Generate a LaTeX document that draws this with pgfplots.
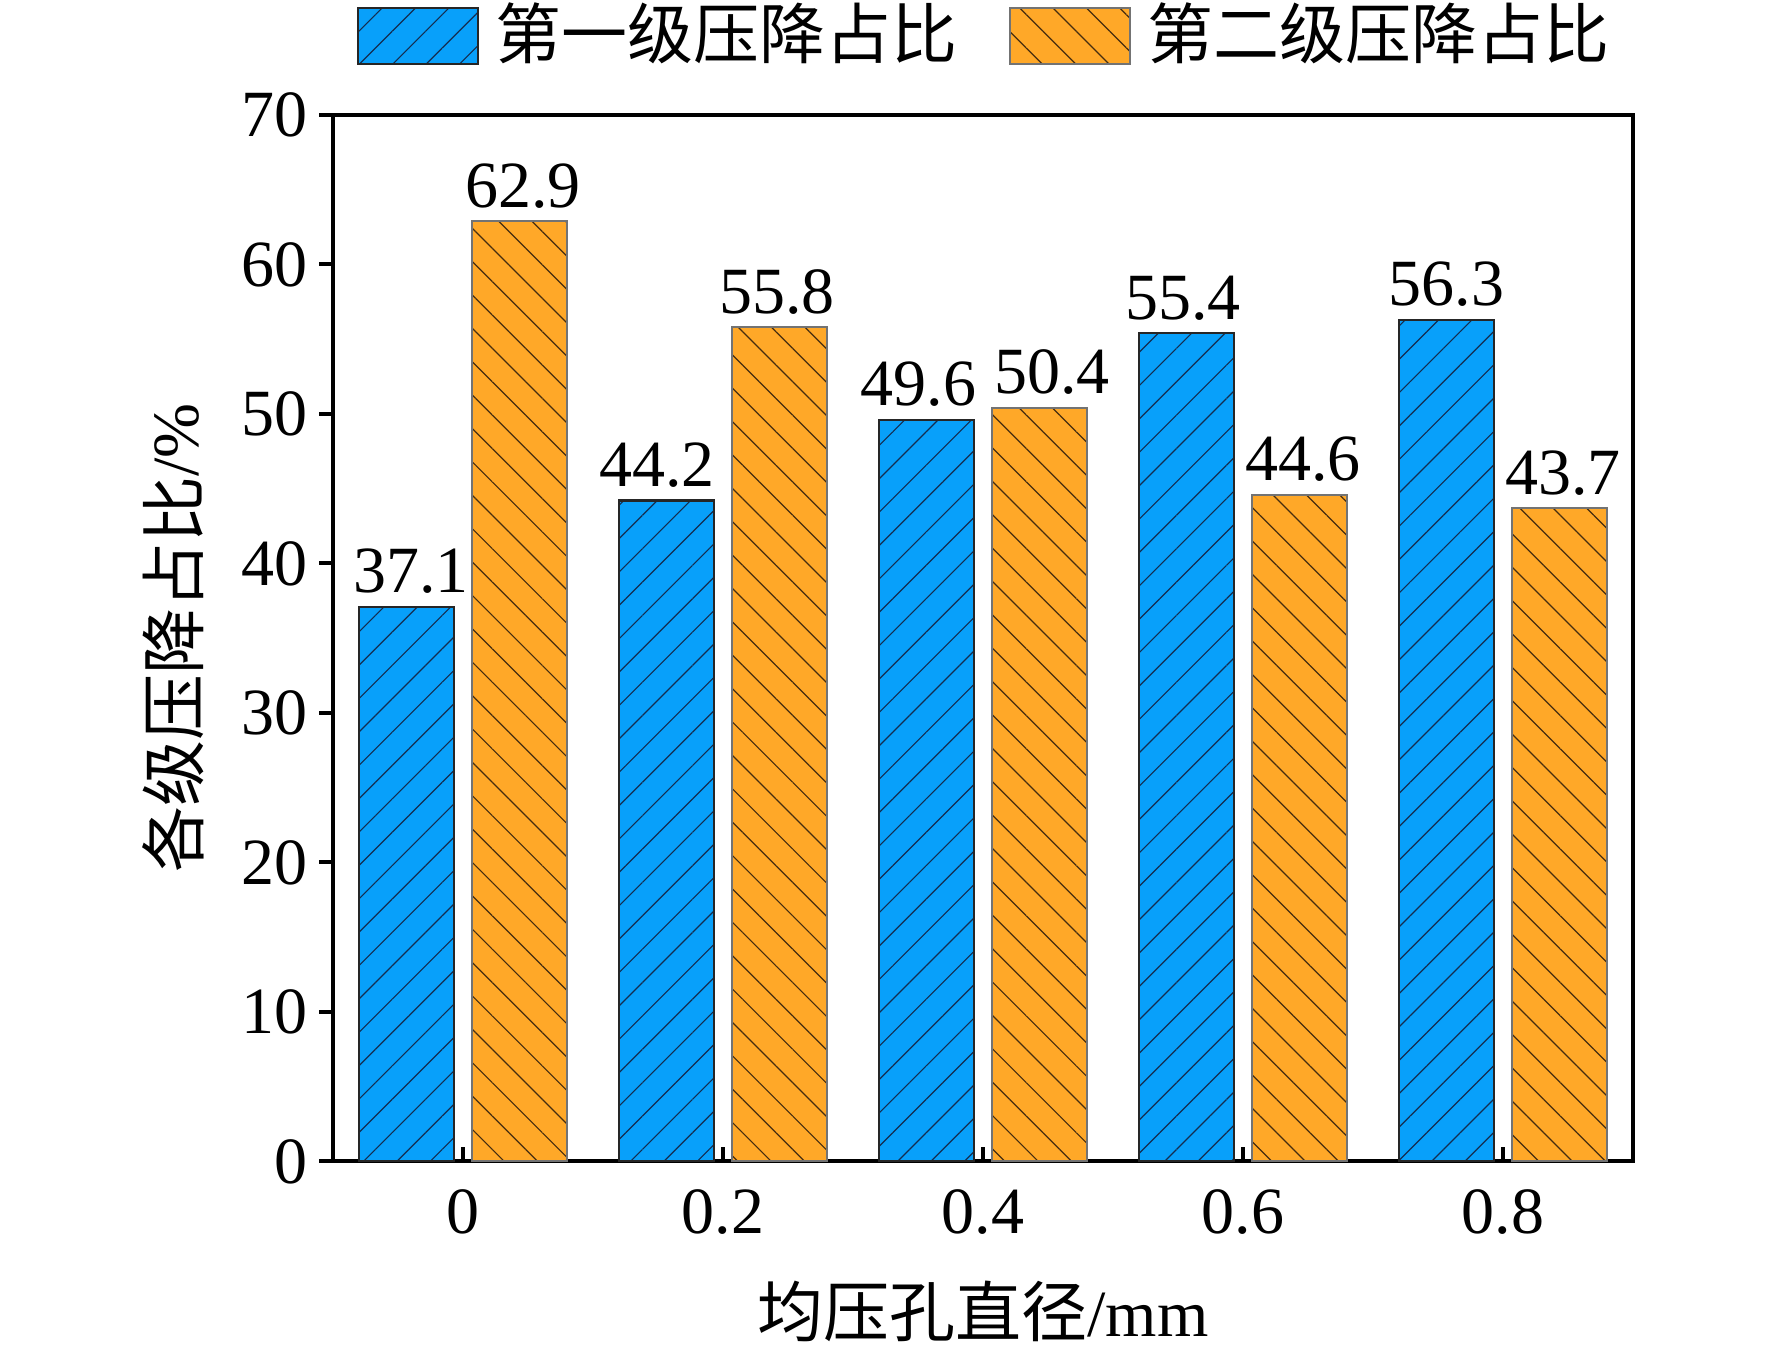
\documentclass[border=0pt]{standalone}
\usepackage{fontspec}
\setmainfont{Liberation Serif}
\newfontfamily\cjk{Noto Sans CJK SC}
\usepackage{pgfplots}
\usepackage{pgfplotstable}
\pgfplotsset{compat=1.18}
\usetikzlibrary{patterns.meta}
\definecolor{cblue}{RGB}{8,160,250}
\definecolor{corange}{RGB}{255,168,40}
\definecolor{hblue}{RGB}{20,45,80}
\definecolor{horange}{RGB}{70,45,15}
\pgfplotsset{mylegend/.style={legend image code/.code={\draw[##1] (0pt,-7pt) rectangle (30pt,7pt);}}}
\pgfplotstableread{
x y dx
0 37.1 1.1
1 44.2 -2.3
2 49.6 -2.0
3 55.4 -0.85
4 56.3 0
}\first
\pgfplotstableread{
x y dx
0 62.9 0.85
1 55.8 -0.6
2 50.4 3.1
3 44.6 0.85
4 43.7 0.85
}\second
\begin{document}
\fontsize{16.5}{19}\selectfont
\begin{tikzpicture}
\begin{axis}[
  width=325pt, height=261.6pt, scale only axis,
  xmin=-0.5, xmax=4.5, ymin=0, ymax=70,
  ybar=4.5pt, bar width=23.8pt,
  xtick={0,1,2,3,4}, xticklabels={0,0.2,0.4,0.6,0.8},
  ytick={0,10,...,70},
  xtick pos=lower, ytick pos=left,
  xtick align=inside, ytick align=outside,
  major tick length=3.5pt,
  tick style={black, line width=1pt},
  axis line style={line width=1pt},
  /pgf/number format/assume math mode=true,
  ticklabel style={font=\fontsize{16.5}{19}\selectfont},
  xticklabel style={yshift=-1.3pt},
  yticklabel style={xshift=2.8pt},
  xlabel={{\cjk 均压孔直径}/mm},
  ylabel={{\cjk 各级压降占比}/\%},
  label style={font=\fontsize{16.5}{19}\selectfont},
  xlabel style={at={(axis description cs:0.5,-0.1437)}, anchor=center},
  ylabel style={at={(axis description cs:-0.1230,0.5)}, anchor=center},
  visualization depends on={\thisrow{dx} \as \mydx},
  nodes near coords={\pgfmathprintnumber[fixed,precision=1]{\pgfplotspointmeta}},
  every node near coord/.append style={font=\fontsize{16.5}{19}\selectfont, inner sep=3pt, black, xshift=\mydx pt},
  legend columns=2,
  legend style={at={(axis description cs:0.0176,1.0755)}, anchor=west, draw=none, fill=none,
    inner sep=0pt, font=\fontsize{16.5}{19}\selectfont,
    nodes={inner sep=0pt},
    /tikz/every odd column/.append style={column sep=4pt},
    /tikz/every even column/.append style={column sep=13pt}},
]
\addplot[mylegend, fill=cblue, draw=black!85, line width=0.6pt,
  postaction={pattern={Lines[angle=45,distance=5.9pt,line width=0.3pt]}, pattern color=hblue}]
  table[x=x, y=y] {\first};
\addlegendentry{\cjk 第一级压降占比}
\addplot[mylegend, fill=corange, draw=black!55, line width=0.6pt,
  postaction={pattern={Lines[angle=-45,distance=5.9pt,line width=0.3pt]}, pattern color=horange}]
  table[x=x, y=y] {\second};
\addlegendentry{\cjk 第二级压降占比}
\end{axis}
\pgfresetboundingbox
\path (-83.25pt,-49.15pt) rectangle (359.75pt,290.35pt);
\end{tikzpicture}
\end{document}
